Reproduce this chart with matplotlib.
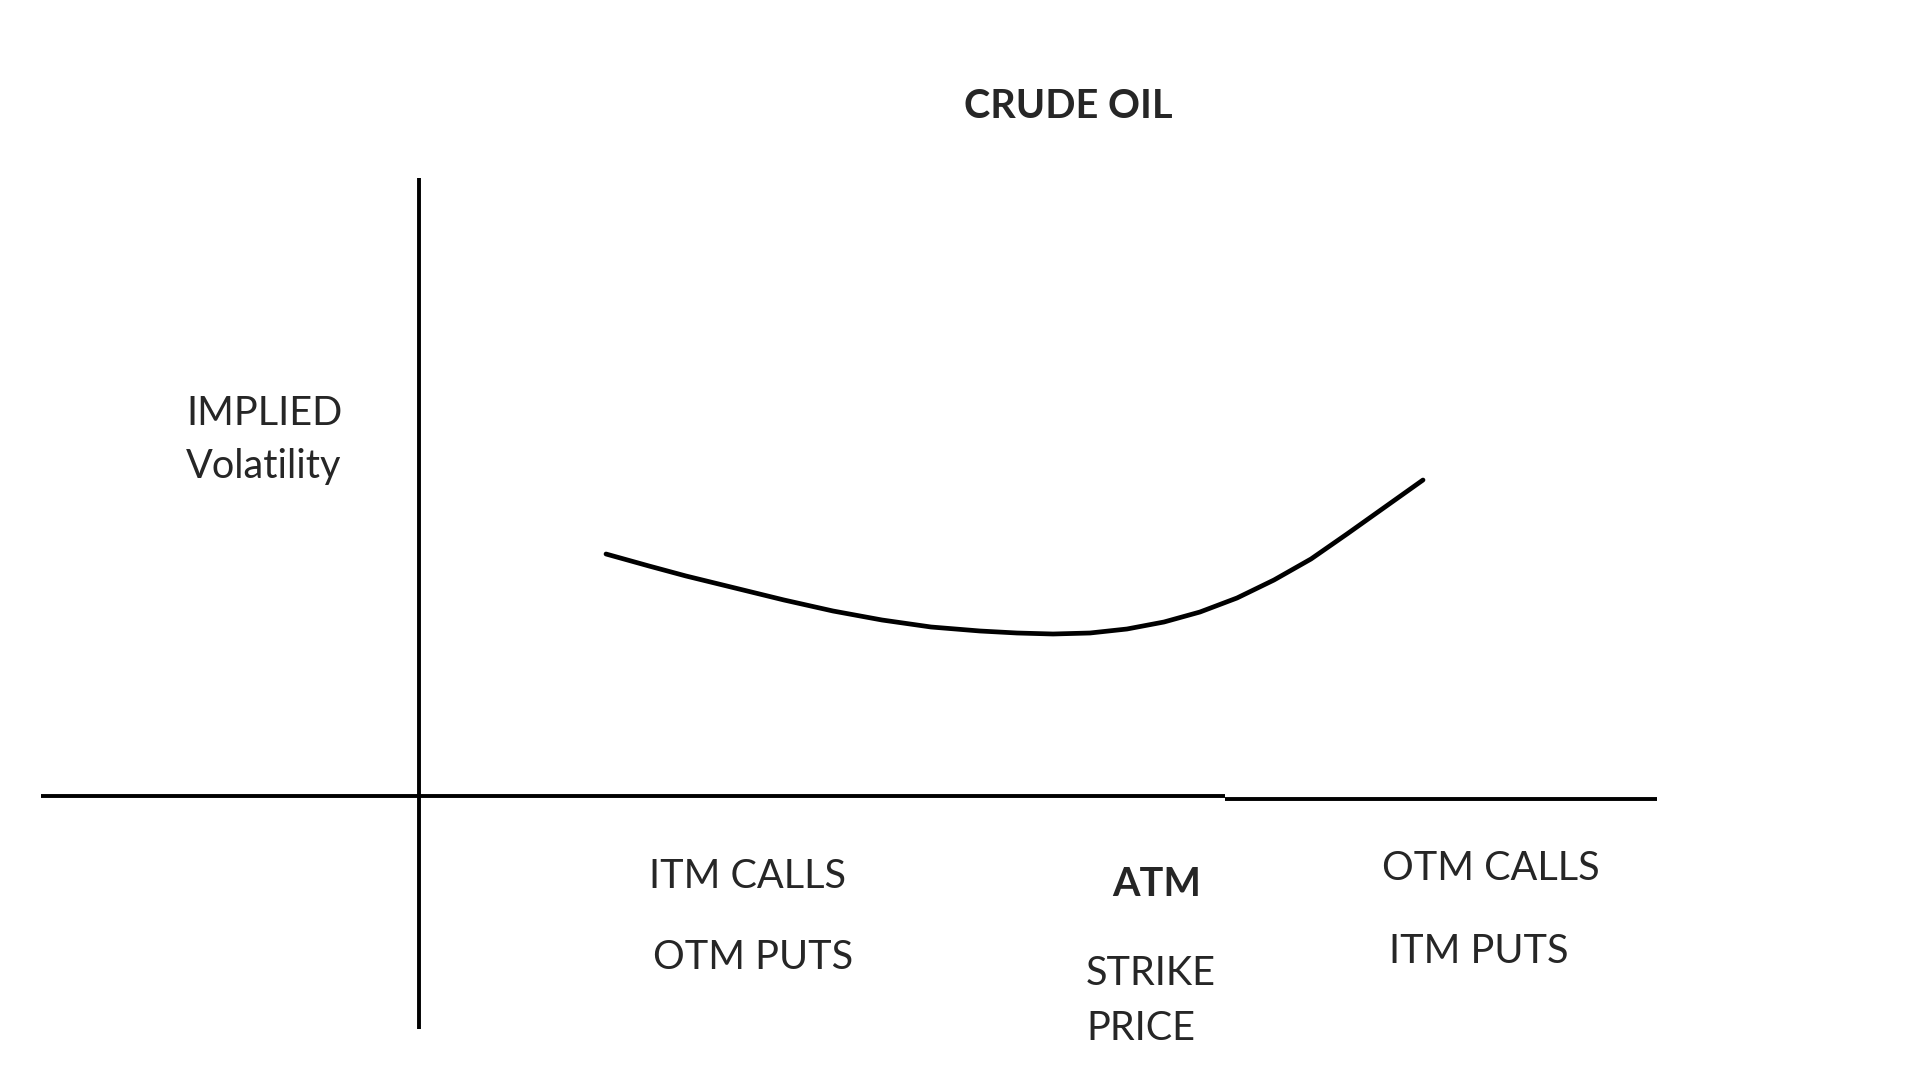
import matplotlib
matplotlib.use('Agg')
import matplotlib.pyplot as plt

# volatility smile (units: 100 px from the axes origin)
strike = [1.87, 2.30, 2.67, 3.16, 3.65, 4.14, 4.63, 5.12, 5.61, 5.98, 6.34,
          6.71, 7.08, 7.45, 7.81, 8.18, 8.55, 8.92, 9.28, 9.66, 10.04]
iv = [2.42, 2.30, 2.20, 2.08, 1.96, 1.85, 1.76, 1.69, 1.65, 1.63, 1.62,
      1.63, 1.67, 1.74, 1.84, 1.98, 2.16, 2.37, 2.62, 2.89, 3.16]

title = 'CRUDE OIL'
ylabel_lines = ['IMPLIED', 'Volatility']
left_labels = ['ITM CALLS', 'OTM PUTS']
mid_labels = ['ATM', 'STRIKE', 'PRICE']
right_labels = ['OTM CALLS', 'ITM PUTS']

plt.rcParams['font.family'] = ['Lato', 'DejaVu Sans']
ink = '#262626'

W, H = 1920, 1080
fig = plt.figure(figsize=(19.2, 10.8), dpi=100)
fig.patch.set_facecolor('white')
ax = fig.add_axes([0, 0, 1, 1])
ax.set_xlim(-4.19, 15.01)
ax.set_ylim(-2.84, 7.96)
ax.axis('off')

# hand drawn axes
ax.plot([0, 0], [-2.33, 6.18], color='black', lw=2.8, solid_capstyle='butt')
ax.plot([-3.78, 8.06], [0, 0], color='black', lw=2.8, solid_capstyle='butt')
ax.plot([8.06, 12.38], [-0.03, -0.03], color='black', lw=2.8, solid_capstyle='butt')

# smile curve
ax.plot(strike, iv, color='black', lw=3.4, solid_joinstyle='round', solid_capstyle='round')


def put(text, x, y, bold=False, ha='left'):
    fig.text(x / W, 1 - y / H, text, fontsize=28.5, color=ink, ha=ha, va='baseline',
             fontweight='bold' if bold else 'normal')


put(title, 1068, 118, bold=True, ha='center')
put(ylabel_lines[0], 186, 425)
put(ylabel_lines[1], 186, 478)
put(left_labels[0], 649, 888)
put(left_labels[1], 653, 969)
put(mid_labels[0], 1112, 896, bold=True)
put(mid_labels[1], 1086, 985)
put(mid_labels[2], 1086, 1040)
put(right_labels[0], 1382, 880)
put(right_labels[1], 1389, 963)

fig.savefig('out.png', dpi=100, facecolor='white')
